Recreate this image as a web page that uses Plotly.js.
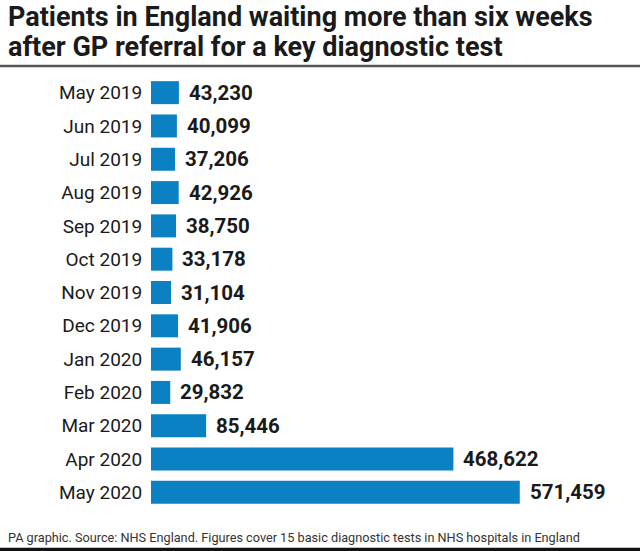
<!DOCTYPE html>
<html>
<head>
<meta charset="utf-8">
<script src="https://cdn.plot.ly/plotly-3.0.1.min.js"></script>
<style>html,body{margin:0;padding:0;background:#fff;}#chart{width:640px;height:551px;}</style>
</head>
<body>
<div id="chart"></div>
<script>
const months = ["May 2019","Jun 2019","Jul 2019","Aug 2019","Sep 2019","Oct 2019","Nov 2019","Dec 2019","Jan 2020","Feb 2020","Mar 2020","Apr 2020","May 2020"];
const patients = [43230,40099,37206,42926,38750,33178,31104,41906,46157,29832,85446,468622,571459];
const valueLabels = ["43,230","40,099","37,206","42,926","38,750","33,178","31,104","41,906","46,157","29,832","85,446","468,622","571,459"];
const titleLines = ["Patients in England waiting more than six weeks", "after GP referral for a key diagnostic test"];
const footerText = "PA graphic. Source: NHS England. Figures cover 15 basic diagnostic tests in NHS hospitals in England";

const W = 640, H = 551;
const mL = 151, mR = 76, mT = 76, mB = 42;
const pw = W - mL - mR, ph = H - mT - mB;
const px = v => (v - mL) / pw;          // container x -> paper x
const py = v => (H - mB - v) / ph;      // container y -> paper y

const font = "Roboto, 'Noto Sans', Arial, sans-serif";

const trace = {
  type: 'bar',
  orientation: 'h',
  y: months,
  x: patients,
  marker: {color: '#0b80c3'},
  width: 0.69,
  hoverinfo: 'none'
};

const annotations = months.map((m, i) => ({
  x: patients[i], y: m, xref: 'x', yref: 'y',
  text: '<b>' + valueLabels[i] + '</b>',
  showarrow: false, xanchor: 'left', xshift: 8,
  font: {family: font, size: 20.5, color: '#1a1a1a'}
}));
annotations.push({
  xref: 'paper', yref: 'paper', x: px(6), y: py(537), xanchor: 'left', yanchor: 'middle',
  text: footerText,
  showarrow: false, font: {family: font, size: 12.7, color: '#333'}
});
titleLines.forEach((t, i) => annotations.push({
  xref: 'paper', yref: 'paper', x: px(6), y: py(17 + 30 * i), xanchor: 'left', yanchor: 'middle',
  text: '<b>' + t + '</b>', showarrow: false,
  font: {family: font, size: 27, color: '#1a1a1a'}
}));

const layout = {
  width: W, height: H,
  margin: {l: mL, r: mR, t: mT, b: mB},
  paper_bgcolor: '#fff', plot_bgcolor: '#fff',
  showlegend: false,
  xaxis: {range: [0, 640000], visible: false, fixedrange: true},
  yaxis: {
    autorange: 'reversed', showgrid: false, zeroline: false, showline: false,
    ticks: 'outside', ticklen: 4, tickcolor: 'rgba(0,0,0,0)',
    tickfont: {family: font, size: 19, color: '#1a1a1a'}
  },
  annotations: annotations,
  shapes: [
    {type: 'line', xref: 'paper', yref: 'paper', x0: px(0), x1: px(W), y0: py(66), y1: py(66),
     line: {color: '#555', width: 2.5}},
    {type: 'line', xref: 'paper', yref: 'paper', x0: px(0), x1: px(W), y0: py(549.5), y1: py(549.5),
     line: {color: '#111', width: 3.5}}
  ]
};

Plotly.newPlot('chart', [trace], layout, {displayModeBar: false, staticPlot: true});
</script>
</body>
</html>
